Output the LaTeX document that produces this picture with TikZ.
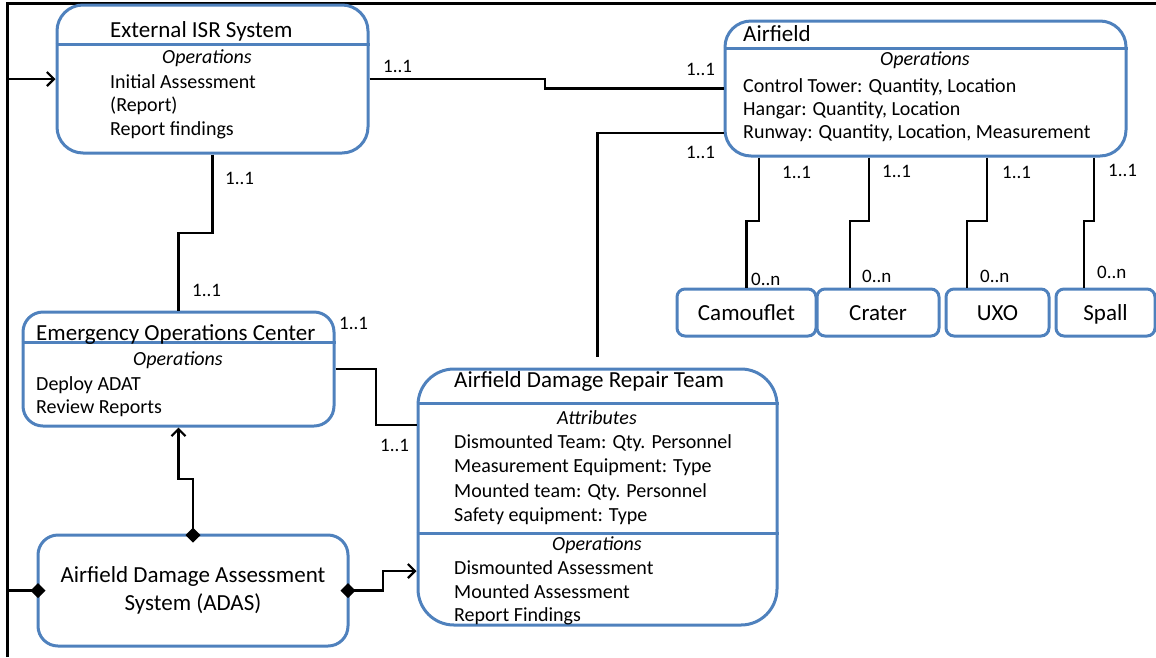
\documentclass[tikz,border=0pt]{standalone}
\usepackage{fontspec}
\setmainfont{Carlito}
\usepackage{tikz}
\usetikzlibrary{positioning}
\usetikzlibrary{arrows.meta}

\definecolor{boxblue}{RGB}{79,129,189}

\begin{document}
\begin{tikzpicture}[x=1pt, y=-1pt, node distance=4pt,
        box/.style={draw=boxblue, line width=3pt, rounded corners=#1, inner sep=0pt},
        box/.default=20pt,
        sep/.style={draw=boxblue, line width=3pt},
        smallbox/.style={box=8pt, minimum height=47pt, font=\fontsize{23}{27}\selectfont, text height=17pt, text depth=2pt},
        conn/.style={line width=2.2pt},
        agg/.style={arrows={Diamond[length=15pt,width=15pt]-Straight Barb[length=7pt,width=14pt]}, shorten <=-9pt},
        head/.style={font=\fontsize{23}{27}\selectfont, inner sep=0pt, anchor=base west},
        sect/.style={font=\fontsize{20}{24}\selectfont\itshape, inner sep=0pt, anchor=base},
        item/.style={font=\fontsize{20}{24}\selectfont, inner sep=0pt, anchor=base west},
        mult/.style={font=\fontsize{19}{23}\selectfont, inner sep=0pt, anchor=base west}]
    \useasboundingbox (0,0) rectangle (1156,657);
    \draw[line width=2.5pt] (7.5,657) -- (7.5,3.5) -- (1156,3.5);

    \node[box=26pt, minimum width=311pt, minimum height=148pt] (isr) at (212.5,79) {};
    \draw[sep] (isr.west |- 0,44) -- (isr.east |- 0,44);
    \node[head] (isr-name) at (110,37) {External ISR System};
    \node[sect] (isr-ops) at (207,63) {Operations};
    \node[item] (isr-op1) at (110,88) {Initial Assessment};
    \node[item] (isr-op2) at (110,111.5) {(Report)};
    \node[item] (isr-op3) at (110,135) {Report findings};

    \node[box=26pt, minimum width=401pt, minimum height=135pt] (airfield) at (925.5,88.5) {};
    \draw[sep] (airfield.west |- 0,48) -- (airfield.east |- 0,48);
    \node[head] (air-name) at (743,41) {Airfield};
    \node[sect] (air-ops) at (925,65) {Operations};
    \node[item] (air-op1) at (743,92) {Control Tower: Quantity, Location};
    \node[item] (air-op2) at (743,115) {Hangar: Quantity, Location};
    \node[item] (air-op3) at (743,138) {Runway: Quantity, Location, Measurement};

    \node[box=20pt, minimum width=311pt, minimum height=114pt] (eoc) at (178.5,369) {};
    \draw[sep] (eoc.west |- 0,342) -- (eoc.east |- 0,342);
    \node[head] (eoc-name) at (36,340) {Emergency Operations Center};
    \node[sect] (eoc-ops) at (178,365) {Operations};
    \node[item] (eoc-op1) at (36,390) {Deploy ADAT};
    \node[item] (eoc-op2) at (36,413) {Review Reports};

    \node[box=36pt, minimum width=359pt, minimum height=256pt] (adrt) at (597.5,497) {};
    \draw[sep] (adrt.west |- 0,403) -- (adrt.east |- 0,403);
    \draw[sep] (adrt.west |- 0,533) -- (adrt.east |- 0,533);
    \node[head] (adrt-name) at (454,387) {Airfield Damage Repair Team};
    \node[sect] (adrt-att) at (597,424) {Attributes};
    \node[item] (adrt-at1) at (454,448) {Dismounted Team: Qty. Personnel};
    \node[item] (adrt-at2) at (454,472) {Measurement Equipment: Type};
    \node[item] (adrt-at3) at (454,497) {Mounted team: Qty. Personnel};
    \node[item] (adrt-at4) at (454,521) {Safety equipment: Type};
    \node[sect] (adrt-ops) at (597,550) {Operations};
    \node[item] (adrt-op1) at (454,574) {Dismounted Assessment};
    \node[item] (adrt-op2) at (454,598) {Mounted Assessment};
    \node[item] (adrt-op3) at (454,621) {Report Findings};

    \node[box=20pt, minimum width=310pt, minimum height=111pt, align=center,
        font=\fontsize{23}{28}\selectfont] (adas) at (193,590.5) {Airfield Damage Assessment\\System (ADAS)};

    \node[smallbox, minimum width=139pt] (camouflet) at (746.5,312.5) {Camouflet};
    \node[smallbox, minimum width=122pt, right=-2pt of camouflet] (crater) {Crater};
    \node[smallbox, minimum width=103pt, right=of crater] (uxo) {UXO};
    \node[smallbox, minimum width=99pt, right=of uxo] (spall) {Spall};

    \draw[conn] (isr.east) -- (545,0 |- isr.east) |- (airfield.west);
    \draw[conn] (airfield.west |- 0,133) -| ([yshift=11pt]adrt.north);
    \draw[conn] (isr.south) -- (212.5,233) -| (eoc.north);
    \draw[conn] (eoc.east) -- (376,0 |- eoc.east) |- (adrt.west |- 0,425);
    \draw[conn, agg] (adas.north) -- (193,479) -| (eoc.south);
    \draw[conn, agg] (adas.west) -- (7.5,0 |- adas.west) |- (isr.west);
    \draw[conn, agg] (adas.east) -- (383,0 |- adas.east) |- (adrt.west |- 0,571);
    \foreach \a/\b/\n in {759/746.5/camouflet, 869/850/crater, 987/967/uxo, 1094/1084/spall}
        \draw[conn] (\a,0 |- airfield.south) -- (\a,221) -- (\b,221) -- (\b,0 |- \n.north);

    \node[mult] (isr-air) at (383,72) {1..1};
    \node[mult] (air-isr) at (686,75) {1..1};
    \node[mult] (air-adrt) at (686,158) {1..1};
    \node[mult] (isr-eoc) at (225,184) {1..1};
    \node[mult] (eoc-isr) at (192,296) {1..1};
    \node[mult] (eoc-adrt) at (339,329) {1..1};
    \node[mult] (adrt-eoc) at (380,451) {1..1};
    \foreach \x/\y/\n in {782/178/camouflet, 882/177/crater, 1002/178/uxo, 1108/176/spall}
        \node[mult] (air-\n) at (\x,\y) {1..1};
    \foreach \x/\y/\n in {751/285/camouflet, 862/282/crater, 980/282/uxo, 1097/278/spall}
        \node[mult] (\n-air) at (\x,\y) {0..n};
\end{tikzpicture}
\end{document}
